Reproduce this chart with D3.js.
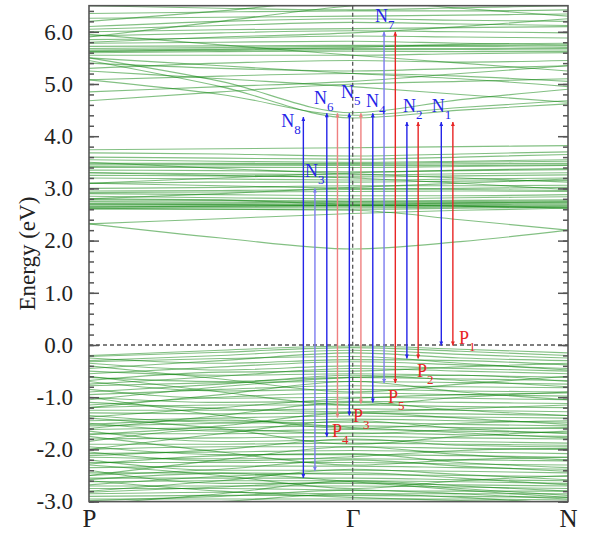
<!DOCTYPE html>
<html>
<head>
<meta charset="utf-8">
<script src="https://cdn.jsdelivr.net/npm/d3@7/dist/d3.min.js"></script>
<style>
  body { margin: 0; background: #fff; }
  svg { display: block; }
  text, tspan { font-family: "Liberation Serif", "Times New Roman", Times, serif; }
</style>
</head>
<body>
<svg id="chart" width="595" height="536" font-family="Liberation Serif, Times, serif"></svg>
<script>
// High-symmetry path P – Γ – N (bcc Brillouin zone, path lengths in 2π/a)
const kPoints = [0, 0.433, 0.866, 1.2196, 1.5731];
const kTicks = [0, 0.866, 1.5731];
const kLabels = ["P", "Γ", "N"];

// Energy ticks (eV)
const majorTicks = [-3, -2, -1, 0, 1, 2, 3, 4, 5, 6];
const minorTicks = d3.range(-3, 6.5001, 0.2).map(v => +v.toFixed(1));

// Valence bands: energies at P, P–Γ midpoint, Γ, Γ–N midpoint, N
const valenceBands = [
  [-0.20, -0.10, -0.02, -0.08, -0.15],
  [-0.22, -0.14, -0.05, -0.12, -0.20],
  [-0.30, -0.20, -0.10, -0.18, -0.25],
  [-0.45, -0.30, -0.15, -0.25, -0.30],
  [-0.25, -0.35, -0.28, -0.30, -0.38],
  [-0.55, -0.42, -0.32, -0.38, -0.45],
  [-0.35, -0.48, -0.40, -0.45, -0.50],
  [-0.75, -0.60, -0.45, -0.50, -0.55],
  [-0.50, -0.58, -0.55, -0.58, -0.62],
  [-0.62, -0.70, -0.62, -0.65, -0.68],
  [-0.78, -0.72, -0.70, -0.72, -0.75],
  [-0.95, -0.85, -0.78, -0.80, -0.82],
  [-0.70, -0.88, -0.85, -0.88, -0.90],
  [-1.15, -1.00, -0.92, -0.95, -0.98],
  [-0.85, -1.02, -1.00, -1.02, -1.05],
  [-1.00, -1.10, -1.08, -1.10, -1.12],
  [-1.20, -1.15, -1.15, -1.18, -1.20],
  [-1.25, -1.25, -1.22, -1.25, -1.28],
  [-1.30, -1.32, -1.30, -1.32, -1.35],
  [-1.45, -1.40, -1.36, -1.38, -1.40],
  [-1.35, -1.48, -1.42, -1.45, -1.48],
  [-1.55, -1.50, -1.48, -1.52, -1.55],
  [-1.62, -1.58, -1.55, -1.58, -1.60],
  [-1.50, -1.65, -1.62, -1.65, -1.68],
  [-1.70, -1.70, -1.68, -1.72, -1.75],
  [-1.80, -1.78, -1.75, -1.78, -1.80],
  [-1.65, -1.85, -1.82, -1.85, -1.88],
  [-1.90, -1.90, -1.88, -1.90, -1.92],
  [-2.00, -1.95, -1.95, -1.98, -2.00],
  [-2.08, -2.05, -2.02, -2.05, -2.08],
  [-1.95, -2.10, -2.10, -2.12, -2.15],
  [-2.15, -2.18, -2.18, -2.20, -2.22],
  [-2.25, -2.25, -2.25, -2.28, -2.30],
  [-2.35, -2.32, -2.32, -2.35, -2.38],
  [-2.20, -2.40, -2.40, -2.42, -2.45],
  [-2.45, -2.45, -2.48, -2.50, -2.52],
  [-2.55, -2.55, -2.55, -2.58, -2.60],
  [-2.62, -2.60, -2.60, -2.62, -2.65],
  [-2.40, -2.65, -2.65, -2.68, -2.70],
  [-2.70, -2.70, -2.70, -2.72, -2.75],
  [-2.75, -2.75, -2.78, -2.80, -2.80],
  [-2.85, -2.82, -2.85, -2.85, -2.85],
  [-2.90, -2.88, -2.88, -2.90, -2.92],
  [-2.95, -2.95, -2.95, -2.95, -2.97],
  [-2.60, -2.80, -2.92, -2.98, -3.00],
  [-1.20, -0.95, -0.70, -0.90, -1.05],
  [-0.60, -0.90, -1.15, -1.00, -0.90],
  [-1.60, -1.35, -1.10, -1.25, -1.35],
  [-2.00, -1.70, -1.45, -1.60, -1.70],
  [-1.00, -1.35, -1.60, -1.50, -1.45],
  [-2.50, -2.20, -1.95, -2.10, -2.20],
  [-1.75, -2.05, -2.30, -2.20, -2.15],
  [-2.30, -2.50, -2.75, -2.60, -2.50],
  [-3.05, -2.85, -2.60, -2.70, -2.80],
  [-0.40, -0.65, -0.90, -0.75, -0.60],
  [-0.90, -0.75, -0.58, -0.68, -0.80],
  [-1.40, -1.60, -1.90, -1.75, -1.65],
  [-2.80, -2.60, -2.38, -2.48, -2.58],
  [-3.10, -3.00, -2.85, -2.92, -3.05],
  [-0.32, -0.26, -0.22, -0.35, -0.48],
  [-0.68, -0.52, -0.50, -0.42, -0.35],
  [-1.05, -0.80, -0.62, -0.58, -0.70],
  [-1.38, -1.20, -1.02, -0.95, -0.92],
  [-1.72, -1.55, -1.30, -1.40, -1.52],
  [-1.85, -1.62, -1.70, -1.62, -1.58],
  [-2.12, -2.00, -1.80, -1.92, -1.95],
  [-2.28, -2.12, -2.08, -2.25, -2.35],
  [-2.50, -2.38, -2.20, -2.32, -2.42],
  [-2.68, -2.52, -2.45, -2.55, -2.68],
  [-2.82, -2.72, -2.62, -2.75, -2.88],
  [-2.98, -2.90, -2.78, -2.85, -2.95],
  [-1.10, -1.22, -1.28, -1.22, -1.15],
  [-1.52, -1.44, -1.58, -1.68, -1.78],
  [-2.05, -2.22, -2.14, -2.02, -1.98],
  [-2.58, -2.46, -2.62, -2.78, -2.92]
];

// Conduction bands
const conductionBands = [
  [2.32, 2.05, 1.84, 1.98, 2.20],
  [2.32, 2.42, 2.52, 2.58, 2.62],
  [2.62, 2.60, 2.58, 2.40, 2.20],
  [2.60, 2.60, 2.60, 2.62, 2.64],
  [2.62, 2.63, 2.63, 2.64, 2.66],
  [2.65, 2.65, 2.66, 2.67, 2.68],
  [2.68, 2.68, 2.68, 2.69, 2.70],
  [2.70, 2.70, 2.70, 2.71, 2.72],
  [2.72, 2.72, 2.73, 2.73, 2.74],
  [2.75, 2.74, 2.75, 2.75, 2.76],
  [2.78, 2.77, 2.76, 2.77, 2.78],
  [2.80, 2.78, 2.70, 2.72, 2.74],
  [2.85, 2.82, 2.80, 2.82, 2.84],
  [2.90, 2.88, 2.86, 2.86, 2.88],
  [2.92, 2.93, 2.94, 2.95, 2.94],
  [2.95, 2.96, 2.98, 3.00, 3.02],
  [3.00, 3.02, 3.05, 3.05, 3.06],
  [3.10, 3.05, 3.00, 2.98, 2.96],
  [3.10, 3.12, 3.12, 3.14, 3.15],
  [3.20, 3.18, 3.16, 3.18, 3.20],
  [3.25, 3.24, 3.22, 3.24, 3.26],
  [3.30, 3.28, 3.26, 3.28, 3.30],
  [3.35, 3.34, 3.32, 3.34, 3.36],
  [3.40, 3.40, 3.40, 3.42, 3.44],
  [3.42, 3.43, 3.44, 3.44, 3.45],
  [3.45, 3.46, 3.46, 3.47, 3.48],
  [3.48, 3.48, 3.48, 3.50, 3.52],
  [3.55, 3.52, 3.50, 3.52, 3.55],
  [3.60, 3.58, 3.56, 3.60, 3.65],
  [3.68, 3.66, 3.62, 3.66, 3.70],
  [3.74, 3.76, 3.78, 3.80, 3.82],
  [3.10, 3.20, 3.30, 3.35, 3.38],
  [3.50, 3.38, 3.28, 3.20, 3.12],
  [3.30, 3.25, 3.20, 3.10, 2.98],
  [2.80, 2.90, 3.02, 3.10, 3.18],
  [2.64, 2.66, 2.68, 2.66, 2.62],
  [2.70, 2.69, 2.67, 2.66, 2.64]
];

// Higher conduction bands
const upperBands = [
  [4.68, 4.85, 5.00, 5.05, 5.10],
  [5.08, 4.80, 4.40, 4.55, 4.68],
  [5.45, 4.95, 4.35, 4.50, 4.62],
  [5.50, 5.05, 4.45, 4.70, 4.90],
  [5.08, 5.15, 5.20, 5.15, 5.05],
  [5.40, 5.30, 5.25, 5.30, 5.35],
  [5.30, 5.40, 5.45, 5.42, 5.45],
  [5.55, 5.55, 5.55, 5.58, 5.60],
  [5.60, 5.62, 5.63, 5.62, 5.62],
  [5.63, 5.64, 5.66, 5.66, 5.65],
  [5.65, 5.67, 5.68, 5.68, 5.68],
  [5.68, 5.70, 5.72, 5.72, 5.70],
  [5.72, 5.73, 5.74, 5.74, 5.73],
  [5.62, 5.66, 5.70, 5.76, 5.78],
  [5.78, 5.80, 5.82, 5.78, 5.75],
  [5.85, 5.88, 5.92, 5.90, 5.88],
  [5.92, 5.98, 6.02, 6.00, 5.98],
  [6.00, 6.04, 6.06, 6.08, 6.10],
  [6.05, 6.12, 6.18, 6.15, 6.12],
  [6.10, 6.20, 6.25, 6.22, 6.20],
  [6.26, 6.28, 6.30, 6.32, 6.34],
  [6.35, 6.38, 6.40, 6.40, 6.42],
  [6.50, 6.45, 6.42, 6.46, 6.50],
  [5.90, 6.20, 6.50, 6.60, 6.70],
  [6.20, 6.40, 6.60, 6.45, 6.30],
  [5.50, 5.35, 5.20, 5.10, 4.95],
  [5.25, 5.10, 4.95, 4.80, 4.65],
  [4.85, 4.95, 5.05, 5.20, 5.35],
  [5.95, 5.75, 5.55, 5.40, 5.25],
  [5.80, 5.90, 5.98, 6.10, 6.25]
];

// Optical transitions: k position, lower and upper energies, colour, faded
const transK    = [0.704, 0.742, 0.781, 0.816, 0.855, 0.893, 0.932, 0.969, 1.006, 1.044, 1.081, 1.157, 1.195];
const transLow  = [-2.55, -2.41, -1.76, -1.39, -1.35, -1.12, -1.10, -0.73, -0.73, -0.26, -0.26, -0.01, -0.01];
const transHigh = [4.37, 3.00, 4.44, 4.44, 4.44, 4.44, 4.44, 6.00, 6.00, 4.27, 4.27, 4.27, 4.27];
const transKind = ["N", "N", "N", "P", "N", "P", "N", "N", "P", "N", "P", "N", "P"];
const transFaded = [false, true, false, true, false, true, false, true, false, false, false, false, false];

// Transition labels: letter, index, anchor (k, energy)
const labelText = ["N", "N", "N", "N", "N", "N", "N", "N", "P", "P", "P", "P", "P"];
const labelSub  = ["8", "6", "5", "4", "7", "2", "1", "3", "1", "2", "5", "3", "4"];
const labelK    = [0.631, 0.739, 0.828, 0.910, 0.939, 1.031, 1.126, 0.709, 1.215, 1.077, 0.982, 0.867, 0.798];
const labelE    = [4.18, 4.62, 4.73, 4.56, 6.19, 4.46, 4.46, 3.22, 0.02, -0.61, -1.11, -1.48, -1.76];

const svg = d3.select("#chart");
const L = 89, R = 568, T = 5.7, B = 501.6;

const x = d3.scaleLinear().domain([0, 1.5731]).range([L, R]);
const y = d3.scaleLinear().domain([-3, 6.5]).range([B, T]);

svg.append("defs").append("clipPath").attr("id", "plot-clip")
  .append("rect").attr("x", L).attr("y", T).attr("width", R - L).attr("height", B - T);

// Bands
const line = d3.line()
  .x((d, i) => x(kPoints[i]))
  .y(d => y(d))
  .curve(d3.curveMonotoneX);

const bandG = svg.append("g").attr("clip-path", "url(#plot-clip)");
bandG.selectAll("path.band")
  .data([...valenceBands, ...conductionBands, ...upperBands])
  .join("path")
  .attr("class", "band")
  .attr("d", line)
  .attr("fill", "none")
  .attr("stroke", "#088208")
  .attr("stroke-opacity", 0.5)
  .attr("stroke-width", 1.1);

// Fermi level and Γ line
svg.append("line")
  .attr("x1", L).attr("x2", R).attr("y1", y(0)).attr("y2", y(0))
  .attr("stroke", "#555").attr("stroke-width", 1.3).attr("stroke-dasharray", "4,3");
svg.append("line")
  .attr("x1", x(kTicks[1])).attr("x2", x(kTicks[1])).attr("y1", T).attr("y2", B)
  .attr("stroke", "#555").attr("stroke-width", 1.3).attr("stroke-dasharray", "4,3");

// Arrowheads
const colors = {
  N: "#2525e8", P: "#e82525",
  Nf: "#7b7bef", Pf: "#ef8080"
};
const defs = svg.select("defs");
Object.entries(colors).forEach(([key, c]) => {
  defs.append("marker")
    .attr("id", "arrow-" + key)
    .attr("viewBox", "0 0 10 10")
    .attr("refX", 10).attr("refY", 5)
    .attr("markerWidth", 6).attr("markerHeight", 4)
    .attr("markerUnits", "userSpaceOnUse")
    .attr("orient", "auto-start-reverse")
    .append("path").attr("d", "M0,0 L10,5 L0,10 z").attr("fill", c);
});

const transitions = transK.map((k, i) => ({
  k, lo: transLow[i], hi: transHigh[i],
  key: transKind[i] + (transFaded[i] ? "f" : "")
}));

svg.append("g").selectAll("line")
  .data(transitions)
  .join("line")
  .attr("x1", d => x(d.k)).attr("x2", d => x(d.k))
  .attr("y1", d => y(d.lo)).attr("y2", d => y(d.hi))
  .attr("stroke", d => colors[d.key])
  .attr("stroke-width", 1.4)
  .attr("marker-start", d => `url(#arrow-${d.key})`)
  .attr("marker-end", d => `url(#arrow-${d.key})`);

// Transition labels
const labels = svg.append("g").selectAll("text")
  .data(labelText.map((t, i) => ({ t, s: labelSub[i], k: labelK[i], e: labelE[i] })))
  .join("text")
  .attr("x", d => x(d.k)).attr("y", d => y(d.e))
  .attr("font-size", 18)
  .attr("fill", d => d.t === "N" ? colors.N : colors.P);
labels.append("tspan").text(d => d.t);
labels.append("tspan").attr("dy", 7).attr("font-size", 13).text(d => d.s);

// Axes
const fmt = d => d.toFixed(1);
function styleAxis(g) {
  g.select(".domain").remove();
  g.attr("font-family", null).attr("font-size", null);
  g.selectAll(".tick line").attr("stroke", "#555").attr("stroke-width", 1.5);
}
svg.append("g").attr("transform", `translate(${L},0)`)
  .call(d3.axisLeft(y).tickValues(minorTicks).tickSize(-5).tickFormat(""))
  .call(styleAxis);
svg.append("g").attr("transform", `translate(${R},0)`)
  .call(d3.axisRight(y).tickValues(minorTicks).tickSize(-5).tickFormat(""))
  .call(styleAxis);
svg.append("g").attr("transform", `translate(${R},0)`)
  .call(d3.axisRight(y).tickValues(majorTicks).tickSize(-10).tickFormat(""))
  .call(styleAxis);
const yAxis = svg.append("g").attr("transform", `translate(${L},0)`)
  .call(d3.axisLeft(y).tickValues(majorTicks).tickSize(-10).tickPadding(16).tickFormat(fmt))
  .call(styleAxis);
yAxis.selectAll(".tick text").attr("font-size", 23).attr("fill", "#222");

const xAxis = svg.append("g").attr("transform", `translate(0,${B})`)
  .call(d3.axisBottom(x).tickValues(kTicks).tickSize(0).tickPadding(8)
    .tickFormat((d, i) => kLabels[i]))
  .call(styleAxis);
xAxis.selectAll(".tick text").attr("font-size", 25).attr("fill", "#222");

// Frame
svg.append("rect")
  .attr("x", L).attr("y", T).attr("width", R - L).attr("height", B - T)
  .attr("fill", "none").attr("stroke", "#555").attr("stroke-width", 1.6);

// Axis title
svg.append("text")
  .attr("transform", `translate(35,${(T + B) / 2}) rotate(-90)`)
  .attr("text-anchor", "middle")
  .attr("font-size", 23).attr("fill", "#222")
  .text("Energy (eV)");
</script>
</body>
</html>
